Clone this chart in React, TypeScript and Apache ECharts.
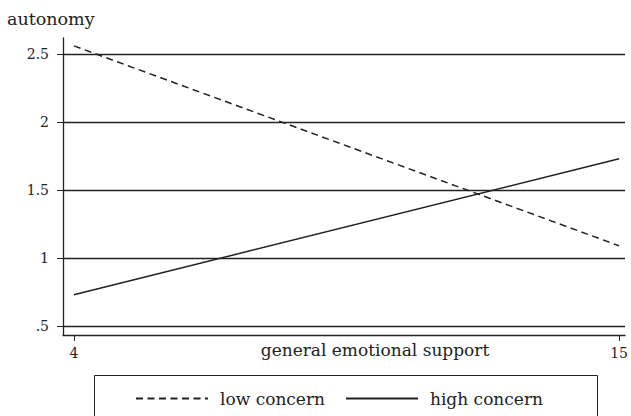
import React, { useEffect, useRef } from "react";
import * as echarts from "echarts";

const xValues = [4, 15];
const lowConcern = [2.56, 1.09];
const highConcern = [0.73, 1.73];
const yTicks = [0.5, 1, 1.5, 2, 2.5];
const xTicks = [4, 15];
const seriesNames = ["low concern", "high concern"];

const FONT = "DejaVu Serif";
const INK = "#222";
const DASH = [7, 4.5];

export default function App() {
  const ref = useRef<HTMLDivElement>(null);
  useEffect(() => {
    if (!ref.current) return;
    const chart = echarts.init(ref.current, undefined, { renderer: "svg" });
    chart.setOption({
      animation: false,
      backgroundColor: "#fff",
      textStyle: { fontFamily: FONT, color: INK },
      title: {
        text: "autonomy",
        left: 7,
        top: 10,
        padding: 0,
        textStyle: { fontFamily: FONT, fontSize: 17.5, fontWeight: "normal", color: INK },
      },
      grid: { left: 63, right: 0, top: 38, bottom: 81, containLabel: false },
      xAxis: {
        type: "value",
        min: 3.78,
        max: 15.12,
        name: "general emotional support",
        nameLocation: "middle",
        nameGap: 6,
        nameMoveOverlap: false,
        nameTextStyle: {
          fontFamily: FONT,
          fontSize: 17,
          color: INK,
          verticalAlign: "top",
          padding: [0, 0, 0, 62],
        },
        axisLine: { show: true, lineStyle: { color: INK, width: 1.3 } },
        axisTick: { show: true, length: 6, customValues: xTicks, lineStyle: { color: INK } },
        axisLabel: { customValues: xTicks, fontFamily: FONT, fontSize: 14, color: INK, margin: 11 },
        splitLine: { show: false },
      },
      yAxis: {
        type: "value",
        min: 0.434,
        max: 2.618,
        axisLine: { show: true, lineStyle: { color: INK, width: 1.3 } },
        axisTick: { show: true, length: 6, customValues: yTicks, lineStyle: { color: INK } },
        axisLabel: {
          customValues: yTicks,
          fontFamily: FONT,
          fontSize: 14,
          color: INK,
          margin: 14,
          formatter: (v: number) => (v === 0.5 ? ".5" : String(v)),
        },
        splitLine: { show: false },
      },
      legend: {
        left: 130,
        top: 385,
        itemWidth: 72,
        itemHeight: 12,
        itemGap: 20,
        itemStyle: { opacity: 0 },
        textStyle: { fontFamily: FONT, fontSize: 17, color: INK, padding: [0, 0, 0, 7] },
        data: seriesNames,
      },
      graphic: [
        {
          type: "rect",
          shape: { x: 94.5, y: 375.5, width: 503, height: 60 },
          style: { fill: "none", stroke: INK, lineWidth: 1 },
          silent: true,
        },
      ],
      series: [
        {
          name: seriesNames[0],
          type: "line",
          symbol: "none",
          data: xValues.map((x, i) => [x, lowConcern[i]]),
          lineStyle: { color: INK, width: 1.5, type: DASH },
          itemStyle: { color: INK },
          markLine: {
            silent: true,
            symbol: "none",
            label: { show: false },
            lineStyle: { color: INK, width: 1.3, type: "solid" },
            data: yTicks.map((v) => ({ yAxis: v })),
          },
        },
        {
          name: seriesNames[1],
          type: "line",
          symbol: "none",
          data: xValues.map((x, i) => [x, highConcern[i]]),
          lineStyle: { color: INK, width: 1.5, type: "solid" },
          itemStyle: { color: INK },
        },
      ],
    });
    return () => chart.dispose();
  }, []);
  return (
    <div
      ref={ref}
      style={{ position: "fixed", left: 0, top: 0, width: 631, height: 416 }}
    />
  );
}
